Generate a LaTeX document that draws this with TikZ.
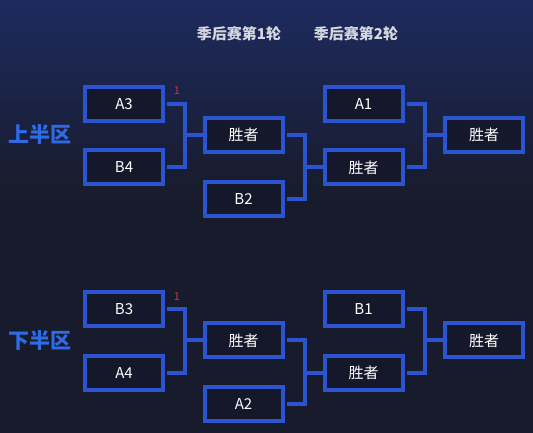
\documentclass[tikz,border=0pt]{standalone}
\usepackage{fontspec}
\setmainfont{Noto Sans CJK SC}
\definecolor{bgdark}{HTML}{181B2B}
\definecolor{bgtop}{HTML}{1D2A5E}
\definecolor{boxblue}{HTML}{2B55D0}
\definecolor{boxfill}{HTML}{15182A}
\definecolor{halfblue}{HTML}{2F6BE6}
\definecolor{titlegray}{HTML}{D6D8E0}
\definecolor{seedred}{HTML}{D8303E}
\begin{document}
\begin{tikzpicture}[x=1pt, y=1pt, font=\fontsize{15}{18}\selectfont, line join=miter,
	team/.style={draw=boxblue, line width=4pt, fill=boxfill, text=white,
		minimum width=78pt, minimum height=34pt, inner sep=0pt},
	link/.style={draw=boxblue, line width=4pt},
	seed/.style={text=seedred, font=\fontsize{11}{13}\selectfont},
	roundtitle/.style={text=titlegray, font=\fontsize{15}{18}\selectfont\bfseries},
	halflabel/.style={text=halfblue, font=\fontsize{21}{24}\selectfont\bfseries}]
	\def\xa{124} \def\xb{243.5} \def\xc{363.5} \def\xd{484} % các cột
	\def\gap{20}
	\useasboundingbox (0,0) rectangle (533,433);
	\fill[bgdark] (0,0) rectangle (533,433);
	\shade[top color=bgtop, bottom color=bgdark] (0,230) rectangle (533,433);
	\node[roundtitle] (r1) at (239,399.5) {季后赛第1轮};
	\node[roundtitle] (r2) at (356,399.5) {季后赛第2轮};
	\foreach \h/\dy/\lab/\ta/\tb/\tc/\td in {u/0/上半区/A3/B4/B2/A1, l/-205.5/下半区/B3/A4/A2/B1}{
		\node[halflabel] (half\h) at (40,298+\dy) {\lab};
		\node[team] (a\h) at (\xa,329+\dy) {\ta};
		\node[team] (b\h) at (\xa,265.5+\dy) {\tb};
		\node[team] (w\h) at (\xb,298+\dy) {胜者};
		\node[team] (c\h) at (\xb,234+\dy) {\tc};
		\node[team] (d\h) at (\xc,329+\dy) {\td};
		\node[team] (v\h) at (\xc,265.5+\dy) {胜者};
		\node[team] (f\h) at (\xd,298+\dy) {胜者};
		\node[seed] (s\h) at ([shift={(12,-6)}]a\h.north east) {1};
		\draw[link] ([xshift=2pt]a\h.east) -- ++(\gap-2,0) |- (w\h.west);
		\draw[link] ([xshift=2pt]b\h.east) -- ++(\gap-2,0) |- (w\h.west);
		\draw[link] ([xshift=2pt]w\h.east) -- ++(\gap-2,0) |- (v\h.west);
		\draw[link] ([xshift=2pt]c\h.east) -- ++(\gap-2,0) |- (v\h.west);
		\draw[link] ([xshift=2pt]d\h.east) -- ++(\gap-2,0) |- (f\h.west);
		\draw[link] ([xshift=2pt]v\h.east) -- ++(\gap-2,0) |- (f\h.west);
	}
\end{tikzpicture}
\end{document}
